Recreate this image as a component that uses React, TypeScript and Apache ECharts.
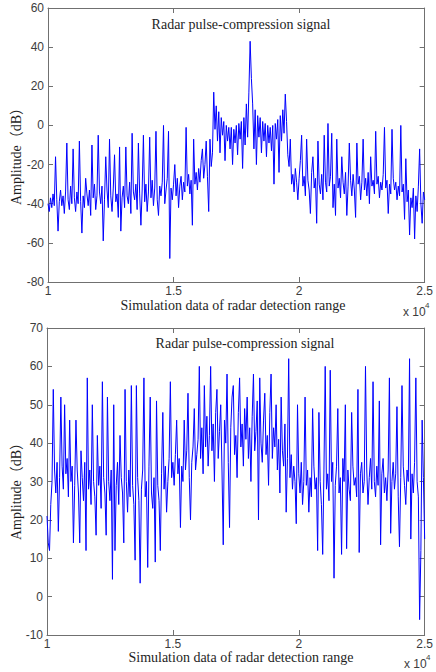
import React, { useEffect, useRef } from 'react';
import * as echarts from 'echarts';

// Range axis (×10^4) and sampling step of the traces
const X_MIN = 10000;
const X_MAX = 25000;
const X_STEP = 50;
const X_INTERVAL = 5000;

// Texts
const TITLE = 'Radar pulse-compression signal';
const X_NAME = 'Simulation data of radar detection range';
const Y_NAME = 'Amplitude（dB）';

// Upper panel: amplitude (dB), one value every X_STEP starting at X_MIN
const TOP_SIGNAL = [
  -40, -44, -37, -42, -35, -41, -16, -38, -54, -39,
  -33, -41, -36, -45, -34, -9, -38, -43, -31, -40,
  -12, -37, -44, -34, -40, -8, -39, -55, -36, -42,
  -27, -35, -41, -33, -46, -10, -37, -30, -43, -36,
  -5, -34, -40, -31, -59, -38, -16, -33, -42, -7,
  -36, -44, -32, -15, -39, -35, -47, -11, -54, -37,
  -31, -42, -11, -36, -40, -29, -45, -4, -34, -38,
  -30, -43, -9, -35, -51, -33, -5, -39, -30, -44,
  -34, -6, -37, -28, -41, -32, -3, -38, -46, -31,
  -36, -29, 0, -40, -33, -27, -3, -68, -32, -38,
  -30, -20, -36, -27, -42, -31, -26, -38, -29, -34,
  -1, -31, -25, -35, -28, -51, -7, -30, -24, -33,
  -22, -29, -18, -12, -27, -20, -8, -26, -44, -7,
  -21, -14, 17, -2, 10, -8, 7, -14, 4, -5,
  2, -18, 0, -8, -1, -12, -1, -20, -2, -9,
  0, -15, 1, -7, 2, -22, 4, -10, 11, -6,
  17, 43, 24, 11, -12, 8, -20, 5, -6, 4,
  -14, 2, -8, 1, -16, 0, -9, -1, -13, 0,
  -30, 1, -7, 3, -24, 5, -8, 8, -4, 16,
  2, -15, -21, -7, -30, -25, -34, -22, -29, -38,
  -27, -18, -5, -31, -26, -36, -7, -28, -33, -45,
  -24, -16, -32, -27, -50, -8, -30, -35, -25, -38,
  -5, -29, -34, 1, -31, -26, -4, -42, -30, -46,
  -7, -32, -27, -37, -16, -29, -35, -24, -46, -31,
  -9, -28, -36, -25, -33, -47, -9, -30, -26, -38,
  -29, -7, -33, -27, -36, -24, -40, -16, -31, -28,
  -35, -3, -30, -26, -37, -29, -33, -25, -1, -32,
  -28, -45, -30, -35, -2, -27, -33, -29, -38, -31,
  -36, 0, -34, -30, -48, -17, -39, -33, -56, -37,
  -42, -32, -58, -36, -44, -31, -12, -40, -50, -34, -38,
];

// Lower panel: amplitude (dB)
const BOTTOM_SIGNAL = [
  21, 14, 12, 24, 30, 54, 33, 27, 35, 17,
  31, 52, 34, 28, 50, 32, 36, 26, 46, 30,
  34, 14, 29, 46, 33, 27, 14, 38, 31, 25,
  35, 12, 57, 28, 33, 24, 50, 30, 26, 16,
  42, 29, 34, 23, 56, 31, 27, 16, 52, 30,
  25, 33, 4.5, 50, 12, 29, 35, 24, 42, 31,
  27, 14, 54, 30, 22, 33, 26, 55, 29, 24,
  9.5, 55, 31, 25, 3.5, 28, 33, 57, 26, 30,
  7.6, 34, 52, 27, 23, 31, 9, 51, 29, 25,
  12, 32, 48, 28, 34, 22, 30, 36, 56, 31,
  35, 29, 37, 46, 32, 36, 18, 34, 30, 46,
  33, 38, 53, 31, 20, 35, 39, 49, 33, 37,
  41, 60, 36, 44, 32, 55, 39, 47, 34, 42,
  60, 38, 45, 30, 48, 54, 36, 43, 50, 33,
  13.5, 46, 40, 58, 35, 18, 44, 52, 55, 37,
  42, 31, 48, 57, 39, 45, 34, 49, 41, 52,
  36, 44, 30, 47, 58, 38, 43, 51, 20, 57,
  40, 35, 46, 53, 37, 42, 29, 48, 58, 36,
  44, 39, 50, 33, 41, 27, 52, 38, 34, 45,
  22, 36, 62, 31, 37, 28, 34, 30, 19, 50,
  32, 27, 35, 24, 30, 52, 29, 33, 22, 31,
  26, 49, 34, 28, 31, 12, 48, 30, 24, 11,
  33, 60, 28, 32, 25, 59, 30, 35, 4.8, 29,
  34, 49, 27, 31, 11, 36, 30, 50, 12.5, 33,
  28, 25, 48, 34, 29, 31, 26, 54, 11.5, 32,
  35, 27, 30, 60, 33, 24, 31, 36, 28, 56,
  30, 26, 34, 29, 51, 13.5, 32, 36, 27, 31,
  25, 33, 57, 16.5, 30, 35, 28, 32, 49.5, 26,
  13, 31, 55, 34, 29, 24, 33, 30, 62, 15,
  32, 27, 35, 57, 30, 26, -6, 12, 46, 31, 15,
];

// Y axis ranges
const TOP_Y = { min: -80, max: 60, interval: 20 };
const BOTTOM_Y = { min: -10, max: 70, interval: 10 };

const AXIS_COLOR = '#707070';
const LABEL_COLOR = '#3c3c3c';
const SANS = '"Liberation Sans", Arial, sans-serif';
const SERIF = '"Liberation Serif", "Times New Roman", "Noto Sans CJK SC", serif';

function toPairs(arr: number[]) {
  return arr.map((v, i) => [X_MIN + i * X_STEP, v]);
}

function xAxes(gridIndex: number) {
  const base = {
    type: 'value' as const,
    gridIndex,
    min: X_MIN,
    max: X_MAX,
    interval: X_INTERVAL,
    splitLine: { show: false },
    axisLine: { show: true, onZero: false, lineStyle: { color: AXIS_COLOR, width: 1 } },
    axisTick: { show: true, inside: true, length: 5, lineStyle: { color: AXIS_COLOR } },
  };
  return [
    {
      ...base,
      position: 'bottom',
      axisLabel: {
        color: LABEL_COLOR,
        fontSize: 12,
        fontFamily: SANS,
        margin: 3,
        formatter: (v: number) => String(v / 10000),
      },
    },
    { ...base, position: 'top', axisLabel: { show: false } },
  ];
}

function yAxes(gridIndex: number, r: { min: number; max: number; interval: number }) {
  const base = {
    type: 'value' as const,
    gridIndex,
    min: r.min,
    max: r.max,
    interval: r.interval,
    splitLine: { show: false },
    axisLine: { show: true, onZero: false, lineStyle: { color: AXIS_COLOR, width: 1 } },
    axisTick: { show: true, inside: true, length: 5, lineStyle: { color: AXIS_COLOR } },
  };
  return [
    {
      ...base,
      position: 'left',
      axisLabel: { color: LABEL_COLOR, fontSize: 12, fontFamily: SANS, margin: 4 },
    },
    { ...base, position: 'right', axisLabel: { show: false } },
  ];
}

function txt(text: string, x: number, y: number, font: string, extra: any = {}) {
  return {
    type: 'text',
    x,
    y,
    silent: true,
    ...extra,
    style: {
      text,
      font,
      fill: '#1e1e1e',
      textAlign: 'center',
      textVerticalAlign: 'middle',
      ...(extra.style || {}),
    },
  };
}

export default function App() {
  const ref = useRef<HTMLDivElement>(null);

  useEffect(() => {
    if (!ref.current) return;
    const chart = echarts.init(ref.current, undefined, { renderer: 'svg' });
    const option: any = {
      animation: false,
      backgroundColor: '#ffffff',
      grid: [
        { left: 48, top: 8, width: 382, height: 274, containLabel: false },
        { left: 47, top: 328, width: 384, height: 307, containLabel: false },
      ],
      xAxis: [...xAxes(0), ...xAxes(1)],
      yAxis: [...yAxes(0, TOP_Y), ...yAxes(1, BOTTOM_Y)],
      series: [
        {
          type: 'line',
          xAxisIndex: 0,
          yAxisIndex: 0,
          data: toPairs(TOP_SIGNAL),
          showSymbol: false,
          symbol: 'none',
          lineStyle: { color: '#0000ff', width: 1 },
          silent: true,
        },
        {
          type: 'line',
          xAxisIndex: 2,
          yAxisIndex: 2,
          data: toPairs(BOTTOM_SIGNAL),
          showSymbol: false,
          symbol: 'none',
          lineStyle: { color: '#0000ff', width: 1 },
          silent: true,
        },
      ],
      graphic: [
        txt(TITLE, 241, 24, `14px ${SERIF}`),
        txt(TITLE, 245, 343, `14px ${SERIF}`),
        txt(X_NAME, 233, 305, `14px ${SERIF}`),
        txt(X_NAME, 241, 657, `14px ${SERIF}`),
        txt(Y_NAME, 16, 153, `14px ${SERIF}`, { rotation: Math.PI / 2 }),
        txt(Y_NAME, 16, 488, `14px ${SERIF}`, { rotation: Math.PI / 2 }),
        txt('x 10', 403, 312, `12px ${SANS}`, { style: { textAlign: 'left', fill: LABEL_COLOR } }),
        txt('4', 425, 305, `8px ${SANS}`, { style: { textAlign: 'left', fill: LABEL_COLOR } }),
        txt('x 10', 404, 664, `12px ${SANS}`, { style: { textAlign: 'left', fill: LABEL_COLOR } }),
        txt('4', 426, 657, `8px ${SANS}`, { style: { textAlign: 'left', fill: LABEL_COLOR } }),
      ],
    };
    chart.setOption(option);
    return () => chart.dispose();
  }, []);

  return (
    <div
      ref={ref}
      style={{ position: 'absolute', left: 0, top: 0, width: 436, height: 672, background: '#fff' }}
    />
  );
}
